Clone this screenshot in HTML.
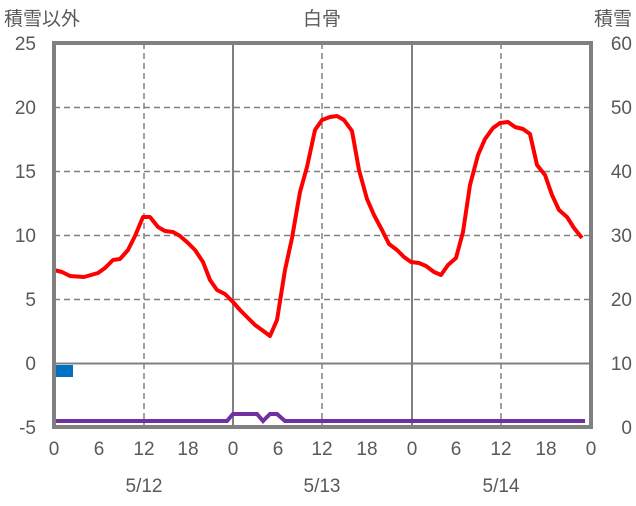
<!DOCTYPE html>
<html><head><meta charset="utf-8"><style>body{margin:0;background:#fff}</style></head><body>
<svg width="636" height="501" xmlns="http://www.w3.org/2000/svg" font-family="'Liberation Sans','Noto Sans CJK JP',sans-serif" fill="#595959">
<g stroke="#808080" stroke-width="1.5" stroke-dasharray="6,4">
<line x1="54" y1="107.5" x2="591" y2="107.5"/><line x1="54" y1="171.5" x2="591" y2="171.5"/><line x1="54" y1="235.5" x2="591" y2="235.5"/><line x1="54" y1="299.5" x2="591" y2="299.5"/>
<line x1="144" y1="43" x2="144" y2="427"/><line x1="322" y1="43" x2="322" y2="427"/><line x1="501" y1="43" x2="501" y2="427"/>
</g>
<g stroke="#808080" stroke-width="2">
<line x1="233" y1="43" x2="233" y2="427"/><line x1="412" y1="43" x2="412" y2="427"/><line x1="54" y1="363.5" x2="591" y2="363.5"/>
</g>
<rect x="54" y="365" width="19" height="12" fill="#0070C0"/>
<polyline fill="none" stroke="#7030A0" stroke-width="4" points="54,421 227,421 233,414 257,414 263,421 270,414 277,414 285,421 585,421"/>
<polyline fill="none" stroke="#FF0000" stroke-width="4" stroke-linejoin="round" points="54,270 62,272 70,276 84,277 98,273 105,268 113,260 120,259 128,250 135,236 143,217 150,217 158,227 165,231 173,232 180,236 188,243 195,250 203,262 210,280 217,290 225,294 233,302 240,310 248,318 255,325 262,330 270,336 277,320 285,270 292,238 300,192 307,167 315,130 322,120 330,117 337,116 344,120 352,131 359,170 367,199 374,215 382,230 389,244 397,250 404,257 411,262 419,263 426,266 434,272 441,275 448,265 456,258 463,232 470,185 478,155 485,139 493,128 500,123 508,122 515,127 523,129 530,134 537,165 545,175 552,195 559,210 567,217 574,228 582,238"/>
<rect x="54" y="43" width="537" height="384" fill="none" stroke="#808080" stroke-width="4"/>
<g font-size="19" text-anchor="end">
<text x="36" y="50">25</text><text x="36" y="114">20</text><text x="36" y="178">15</text><text x="36" y="242">10</text><text x="36" y="306">5</text><text x="36" y="370">0</text><text x="36" y="434">-5</text>
</g>
<g font-size="19" text-anchor="end">
<text x="632" y="50">60</text><text x="632" y="114">50</text><text x="632" y="178">40</text><text x="632" y="242">30</text><text x="632" y="306">20</text><text x="632" y="370">10</text><text x="632" y="434">0</text>
</g>
<g font-size="19" text-anchor="middle">
<text x="54" y="455">0</text><text x="99" y="455">6</text><text x="144" y="455">12</text><text x="188" y="455">18</text><text x="233" y="455">0</text><text x="278" y="455">6</text><text x="322" y="455">12</text><text x="367" y="455">18</text><text x="412" y="455">0</text><text x="456" y="455">6</text><text x="501" y="455">12</text><text x="546" y="455">18</text><text x="591" y="455">0</text>
<text x="144" y="492">5/12</text><text x="322" y="492">5/13</text><text x="501" y="492">5/14</text>
<text x="322" y="25">白骨</text>
</g>
<text x="4" y="25" font-size="19">積雪以外</text>
<text x="632" y="25" font-size="19" text-anchor="end">積雪</text>
</svg>
</body></html>
